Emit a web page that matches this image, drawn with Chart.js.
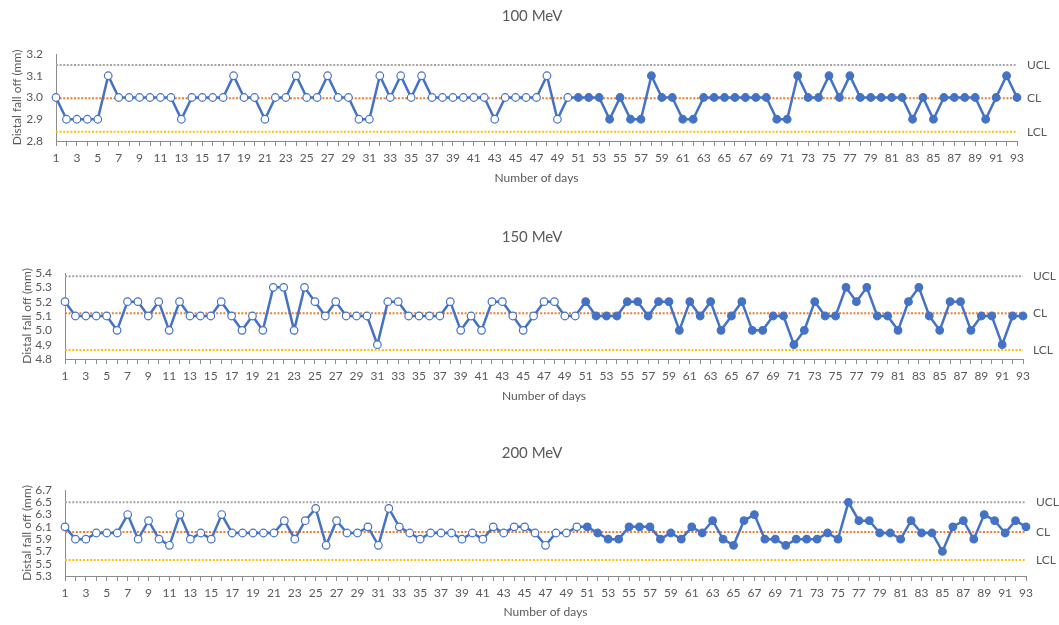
<!DOCTYPE html>
<html>
<head>
<meta charset="utf-8">
<script src="https://cdn.jsdelivr.net/npm/chart.js@4/dist/chart.umd.min.js"></script>
<style>
  html, body { margin: 0; padding: 0; background: #ffffff; }
  #wrap { position: relative; width: 1059px; height: 625px; overflow: hidden; background: #ffffff; }
  #wrap canvas { position: absolute; left: 0; }
</style>
</head>
<body>
<div id="wrap">
  <canvas id="c100" width="1059" height="189" style="top:0px"></canvas>
  <canvas id="c150" width="1059" height="187" style="top:220px"></canvas>
  <canvas id="c200" width="1059" height="186" style="top:437px"></canvas>
</div>
<script>
// Day numbers along the x axis
const days = Array.from({ length: 93 }, (_, i) => String(i + 1));

// Daily distal fall-off readings (mm)
const values100 = [
  3.0, 2.9, 2.9, 2.9, 2.9, 3.1, 3.0, 3.0, 3.0, 3.0,
  3.0, 3.0, 2.9, 3.0, 3.0, 3.0, 3.0, 3.1, 3.0, 3.0,
  2.9, 3.0, 3.0, 3.1, 3.0, 3.0, 3.1, 3.0, 3.0, 2.9,
  2.9, 3.1, 3.0, 3.1, 3.0, 3.1, 3.0, 3.0, 3.0, 3.0,
  3.0, 3.0, 2.9, 3.0, 3.0, 3.0, 3.0, 3.1, 2.9, 3.0,
  3.0, 3.0, 3.0, 2.9, 3.0, 2.9, 2.9, 3.1, 3.0, 3.0,
  2.9, 2.9, 3.0, 3.0, 3.0, 3.0, 3.0, 3.0, 3.0, 2.9,
  2.9, 3.1, 3.0, 3.0, 3.1, 3.0, 3.1, 3.0, 3.0, 3.0,
  3.0, 3.0, 2.9, 3.0, 2.9, 3.0, 3.0, 3.0, 3.0, 2.9,
  3.0, 3.1, 3.0
];
const values150 = [
  5.2, 5.1, 5.1, 5.1, 5.1, 5.0, 5.2, 5.2, 5.1, 5.2,
  5.0, 5.2, 5.1, 5.1, 5.1, 5.2, 5.1, 5.0, 5.1, 5.0,
  5.3, 5.3, 5.0, 5.3, 5.2, 5.1, 5.2, 5.1, 5.1, 5.1,
  4.9, 5.2, 5.2, 5.1, 5.1, 5.1, 5.1, 5.2, 5.0, 5.1,
  5.0, 5.2, 5.2, 5.1, 5.0, 5.1, 5.2, 5.2, 5.1, 5.1,
  5.2, 5.1, 5.1, 5.1, 5.2, 5.2, 5.1, 5.2, 5.2, 5.0,
  5.2, 5.1, 5.2, 5.0, 5.1, 5.2, 5.0, 5.0, 5.1, 5.1,
  4.9, 5.0, 5.2, 5.1, 5.1, 5.3, 5.2, 5.3, 5.1, 5.1,
  5.0, 5.2, 5.3, 5.1, 5.0, 5.2, 5.2, 5.0, 5.1, 5.1,
  4.9, 5.1, 5.1
];
const values200 = [
  6.1, 5.9, 5.9, 6.0, 6.0, 6.0, 6.3, 5.9, 6.2, 5.9,
  5.8, 6.3, 5.9, 6.0, 5.9, 6.3, 6.0, 6.0, 6.0, 6.0,
  6.0, 6.2, 5.9, 6.2, 6.4, 5.8, 6.2, 6.0, 6.0, 6.1,
  5.8, 6.4, 6.1, 6.0, 5.9, 6.0, 6.0, 6.0, 5.9, 6.0,
  5.9, 6.1, 6.0, 6.1, 6.1, 6.0, 5.8, 6.0, 6.0, 6.1,
  6.1, 6.0, 5.9, 5.9, 6.1, 6.1, 6.1, 5.9, 6.0, 5.9,
  6.1, 6.0, 6.2, 5.9, 5.8, 6.2, 6.3, 5.9, 5.9, 5.8,
  5.9, 5.9, 5.9, 6.0, 5.9, 6.5, 6.2, 6.2, 6.0, 6.0,
  5.9, 6.2, 6.0, 6.0, 5.7, 6.1, 6.2, 5.9, 6.3, 6.2,
  6.0, 6.2, 6.1
];

// Control limits: [UCL, CL, LCL]
const limits100 = [3.15, 2.996, 2.843];
const limits150 = [5.377, 5.119, 4.863];
const limits200 = [6.50, 6.018, 5.56];

// Y axis range and step: [min, max, step]
const yRange100 = [2.8, 3.2, 0.1];
const yRange150 = [4.8, 5.4, 0.1];
const yRange200 = [5.3, 6.7, 0.2];

const limitNames = ['UCL', 'CL', 'LCL'];
const panelTitles = ['100 MeV', '150 MeV', '200 MeV'];

// First days are shown as open circles, the rest as filled dots
const openDays = 50;

const FONT = 'Lato, "Liberation Sans", sans-serif';
const TEXT = '#595959';
const BLUE = '#4472C4';
const AXIS = '#8C8C8C';
const limitColors = ['#A5A5A5', '#ED7D31', '#FFC000'];

// Panel title and the UCL / CL / LCL tags on the right
const panelText = {
  id: 'panelText',
  afterDraw(chart, args, opts) {
    const { ctx, chartArea } = chart;
    const y = chart.scales.y;
    ctx.save();
    ctx.fillStyle = TEXT;
    ctx.font = '15px ' + FONT;
    ctx.textAlign = 'center';
    ctx.textBaseline = 'middle';
    ctx.fillText(opts.title, 532, opts.titleY);
    ctx.font = '12px ' + FONT;
    ctx.textAlign = 'left';
    opts.limits.forEach((v, i) => {
      ctx.fillText(limitNames[i], chartArea.right + 10, y.getPixelForValue(v));
    });
    ctx.restore();
  }
};

function makePanel(canvasId, title, values, limits, yRange, p) {
  const limitSets = limits.map((v, i) => ({
    data: [{ x: days[0], y: v }, { x: days[days.length - 1], y: v }],
    borderColor: limitColors[i],
    borderWidth: 2,
    borderDash: [2, 1.6],
    pointRadius: 0,
    fill: false
  }));
  return new Chart(document.getElementById(canvasId), {
    type: 'line',
    data: {
      labels: days,
      datasets: [{
        data: values,
        borderColor: BLUE,
        borderWidth: 2.5,
        tension: 0,
        pointRadius: 3.8,
        pointBorderWidth: 1.2,
        pointBorderColor: BLUE,
        pointBackgroundColor: values.map((v, i) => i < openDays ? '#FFFFFF' : BLUE),
        fill: false
      }, ...limitSets]
    },
    options: {
      responsive: false,
      animation: false,
      events: [],
      layout: { padding: { top: p.padTop, right: p.padRight, left: 0, bottom: 0 } },
      plugins: {
        legend: { display: false },
        tooltip: { enabled: false },
        panelText: { title: title, titleY: p.titleY, limits: limits }
      },
      scales: {
        x: {
          type: 'category',
          offset: false,
          afterFit(s) { s.height = p.xAxisH; },
          grid: { display: true, drawOnChartArea: false, drawTicks: true, tickLength: 5, color: AXIS, offset: false },
          border: { display: true, color: AXIS, width: 1 },
          ticks: {
            autoSkip: false, maxRotation: 0, padding: 5,
            color: TEXT, font: { family: FONT, size: 12 },
            callback: (v, i) => (i % 2 === 0 ? days[i] : '')
          },
          title: {
            display: true, text: 'Number of days', color: TEXT,
            font: { family: FONT, size: 12 }, padding: { top: 0, bottom: 4 }
          }
        },
        y: {
          min: yRange[0], max: yRange[1],
          afterFit(s) { s.width = p.left; },
          grid: { display: false, drawTicks: false },
          border: { display: true, color: AXIS, width: 1 },
          ticks: {
            stepSize: yRange[2], autoSkip: false, padding: 13, color: TEXT,
            font: { family: FONT, size: 12 },
            callback: v => Number(v).toFixed(1)
          },
          title: {
            display: true, text: 'Distal fall off (mm)', color: TEXT,
            font: { family: FONT, size: 12 }, padding: { top: p.yTitlePad, bottom: 0 }
          }
        }
      }
    },
    plugins: [panelText]
  });
}

makePanel('c100', panelTitles[0], values100, limits100, yRange100,
  { left: 56, padRight: 42, padTop: 54, xAxisH: 48, titleY: 16, yTitlePad: 10 });
makePanel('c150', panelTitles[1], values150, limits150, yRange150,
  { left: 65, padRight: 36, padTop: 53, xAxisH: 48, titleY: 17, yTitlePad: 20 });
makePanel('c200', panelTitles[2], values200, limits200, yRange200,
  { left: 65, padRight: 33, padTop: 53, xAxisH: 47, titleY: 16, yTitlePad: 20 });
</script>
</body>
</html>
